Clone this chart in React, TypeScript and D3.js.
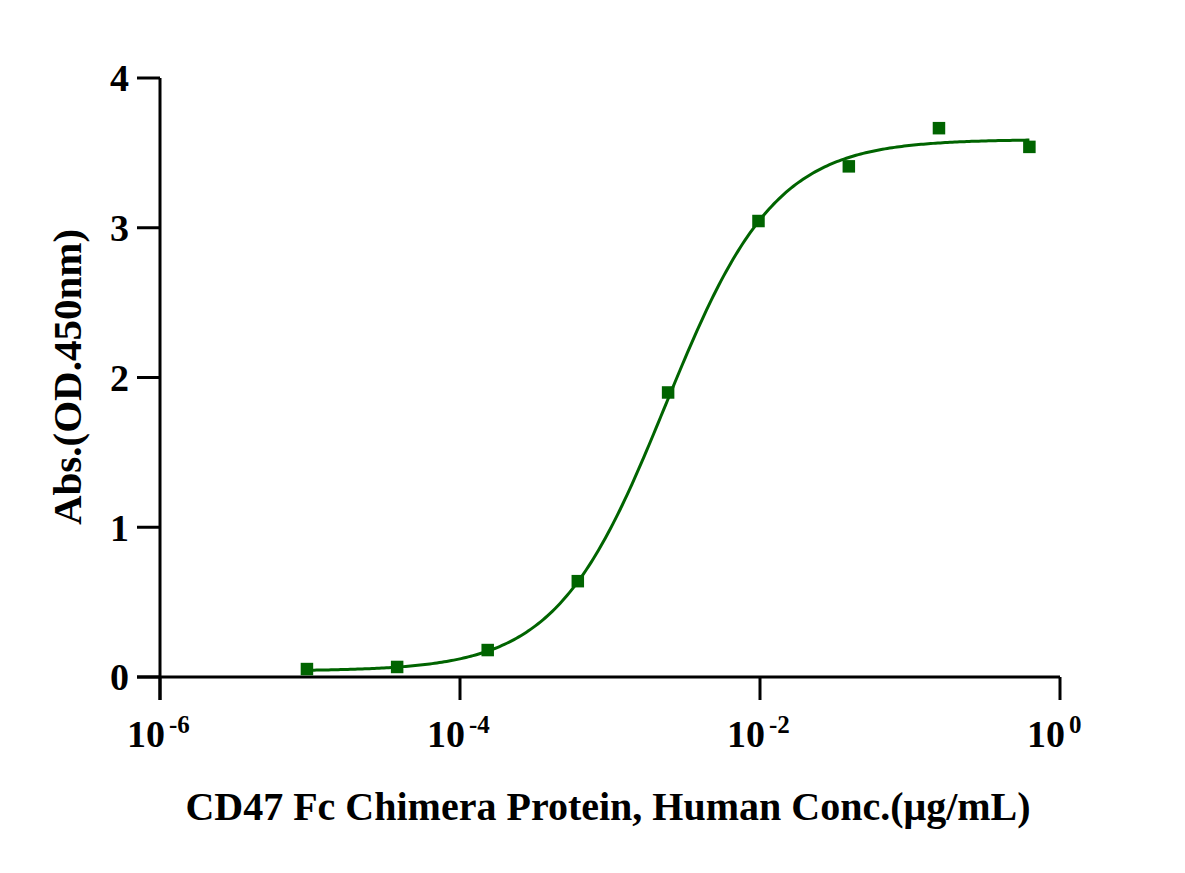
import React from "react";
import * as d3 from "d3";

const concentrations = [9.54e-6, 3.81e-5, 1.53e-4, 6.1e-4, 2.44e-3, 9.77e-3, 0.0391, 0.156, 0.625];
const absorbance = [0.053, 0.067, 0.18, 0.64, 1.9, 3.045, 3.41, 3.665, 3.54];
const xTickExponents = [-6, -4, -2, 0];
const yTicks = [0, 1, 2, 3, 4];
// 4PL fit parameters
const fitBottom = 0.04;
const fitTop = 3.59;
const fitLogEC50 = -2.63;
const fitHill = 1.19;

const W = 1185;
const H = 873;
const COLOR = "#006400";
const FONT = "'Liberation Serif', 'Times New Roman', serif";

export default function App() {
  const x = d3.scaleLog().domain([1e-6, 1]).range([160, 1060]);
  const y = d3.scaleLinear().domain([0, 4]).range([677, 78]);

  const fit = (c: number) =>
    fitBottom + (fitTop - fitBottom) / (1 + Math.pow(10, (fitLogEC50 - Math.log10(c)) * fitHill));

  const lo = Math.log10(concentrations[0]);
  const hi = Math.log10(concentrations[concentrations.length - 1]);
  const curvePts: [number, number][] = d3.range(0, 301).map((i) => {
    const c = Math.pow(10, lo + ((hi - lo) * i) / 300);
    return [x(c), y(fit(c))];
  });
  const line = d3.line().curve(d3.curveLinear)(curvePts) || "";

  const m = 12.5;

  return (
    <svg width={W} height={H} style={{ position: "absolute", left: 0, top: 0, background: "#fff" }}>
      <rect width={W} height={H} fill="#fff" />
      {/* axes */}
      <line x1={160} x2={160} y1={y(4)} y2={700} stroke="#000" strokeWidth={3} />
      <line x1={137} x2={1060} y1={y(0)} y2={y(0)} stroke="#000" strokeWidth={3} />
      {yTicks.map((t) => (
        <g key={t}>
          <line x1={137} x2={160} y1={y(t)} y2={y(t)} stroke="#000" strokeWidth={3} />
          <text
            x={129}
            y={y(t)}
            dy="0.35em"
            textAnchor="end"
            fontFamily={FONT}
            fontWeight="bold"
            fontSize={38}
          >
            {t}
          </text>
        </g>
      ))}
      {xTickExponents.map((e) => (
        <g key={e}>
          <line x1={x(Math.pow(10, e))} x2={x(Math.pow(10, e))} y1={y(0)} y2={700} stroke="#000" strokeWidth={3} />
          <text
            x={x(Math.pow(10, e)) - 33}
            y={747}
            fontFamily={FONT}
            fontWeight="bold"
            fontSize={38}
          >
            10
            <tspan dx={4} dy={-14} fontSize={25}>
              {e === 0 ? "0" : `-${Math.abs(e)}`}
            </tspan>
          </text>
        </g>
      ))}
      {/* fit curve */}
      <path d={line} fill="none" stroke={COLOR} strokeWidth={3} />
      {/* points */}
      {concentrations.map((c, i) => (
        <rect
          key={i}
          x={x(c) - m / 2}
          y={y(absorbance[i]) - m / 2}
          width={m}
          height={m}
          fill={COLOR}
        />
      ))}
      {/* titles */}
      <text
        x={608}
        y={820}
        textAnchor="middle"
        fontFamily={FONT}
        fontWeight="bold"
        fontSize={40}
      >
        CD47 Fc Chimera Protein, Human Conc.(μg/mL)
      </text>
      <text
        transform={`translate(81,${377}) rotate(-90)`}
        textAnchor="middle"
        fontFamily={FONT}
        fontWeight="bold"
        fontSize={41}
      >
        Abs.(OD.450nm)
      </text>
    </svg>
  );
}
